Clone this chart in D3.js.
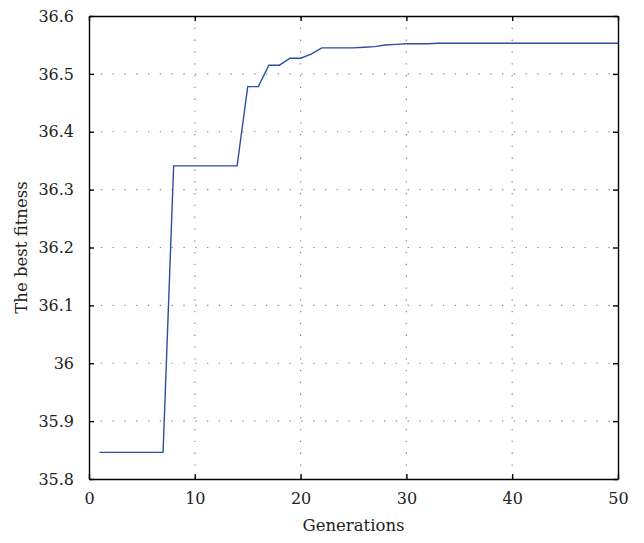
<!DOCTYPE html>
<html>
<head>
<meta charset="utf-8">
<script src="https://cdn.jsdelivr.net/npm/d3@7"></script>
<style>
  html, body { margin: 0; padding: 0; background: #fff; }
  svg text { font-family: "DejaVu Serif", "Liberation Serif", serif; fill: #222; }
</style>
</head>
<body>
<svg id="chart" width="644" height="543"></svg>
<script>
const generations = d3.range(1, 51);
const bestFitness = [
  35.846, 35.846, 35.846, 35.846, 35.846, 35.846, 35.846,
  36.341, 36.341, 36.341, 36.341, 36.341, 36.341, 36.341,
  36.478, 36.478,
  36.515, 36.515,
  36.527, 36.527,
  36.534,
  36.545, 36.545, 36.545, 36.545,
  36.546, 36.547, 36.550, 36.551, 36.552, 36.552, 36.552,
  36.553, 36.553, 36.553, 36.553, 36.553, 36.553, 36.553, 36.553, 36.553,
  36.553, 36.553, 36.553, 36.553, 36.553, 36.553, 36.553, 36.553, 36.553
];
const xTicks = [0, 10, 20, 30, 40, 50];
const yTicks = [35.8, 35.9, 36.0, 36.1, 36.2, 36.3, 36.4, 36.5, 36.6];
const xLabel = "Generations";
const yLabel = "The best fitness";

const svg = d3.select("#chart");
const m = { left: 89, right: 26, top: 16, bottom: 64 };
const W = 644, H = 543;
const x = d3.scaleLinear().domain([0, 50]).range([m.left, W - m.right]);
const y = d3.scaleLinear().domain([35.8, 36.6]).range([H - m.bottom, m.top]);
const fmtY = v => (Math.abs(v - 36) < 1e-9 ? "36" : d3.format(".1f")(v));

// grid
const grid = svg.append("g");
grid.selectAll("line.vg").data(xTicks.slice(1, -1)).join("line")
  .attr("x1", d => x(d)).attr("x2", d => x(d))
  .attr("y1", y.range()[1]).attr("y2", y.range()[0])
  .attr("stroke", "#8a8a8a").attr("stroke-width", 1.2)
  .attr("stroke-dasharray", "1.3,10.5");
grid.selectAll("line.hg").data(yTicks.slice(1, -1)).join("line")
  .attr("y1", d => y(d)).attr("y2", d => y(d))
  .attr("x1", x.range()[0]).attr("x2", x.range()[1])
  .attr("stroke", "#8a8a8a").attr("stroke-width", 1.2)
  .attr("stroke-dasharray", "1.3,10.5");

// line
const line = d3.line().x((d, i) => x(generations[i])).y(d => y(d));
svg.append("path").datum(bestFitness)
  .attr("d", line).attr("fill", "none")
  .attr("stroke", "#2f4ea2").attr("stroke-width", 1.4);

// axes (inward ticks, boxed)
const tl = 5;
const axBottom = svg.append("g").attr("transform", `translate(0,${y.range()[0]})`)
  .call(d3.axisBottom(x).tickValues(xTicks).tickSizeInner(-tl).tickSizeOuter(0).tickPadding(14).tickFormat(d3.format("d")));
const axTop = svg.append("g").attr("transform", `translate(0,${y.range()[1]})`)
  .call(d3.axisTop(x).tickValues(xTicks).tickSizeInner(-tl).tickSizeOuter(0).tickFormat(""));
const axLeft = svg.append("g").attr("transform", `translate(${x.range()[0]},0)`)
  .call(d3.axisLeft(y).tickValues(yTicks).tickSizeInner(-tl).tickSizeOuter(0).tickPadding(15).tickFormat(fmtY));
const axRight = svg.append("g").attr("transform", `translate(${x.range()[1]},0)`)
  .call(d3.axisRight(y).tickValues(yTicks).tickSizeInner(-tl).tickSizeOuter(0).tickFormat(""));

[axBottom, axTop, axLeft, axRight].forEach(g => {
  g.select(".domain").attr("stroke", "#000").attr("stroke-width", 1.4);
  g.selectAll(".tick line").attr("stroke", "#000").attr("stroke-width", 1.4);
  g.selectAll(".tick text").attr("font-size", 16).attr("fill", "#222")
    .attr("font-family", '"DejaVu Serif", "Liberation Serif", serif');
});

svg.append("text").attr("x", (x.range()[0] + x.range()[1]) / 2).attr("y", 531)
  .attr("text-anchor", "middle").attr("font-size", 16.5).text(xLabel);
svg.append("text")
  .attr("transform", `translate(27,${(y.range()[0] + y.range()[1]) / 2}) rotate(-90)`)
  .attr("text-anchor", "middle").attr("font-size", 16.5).text(yLabel);
</script>
</body>
</html>
